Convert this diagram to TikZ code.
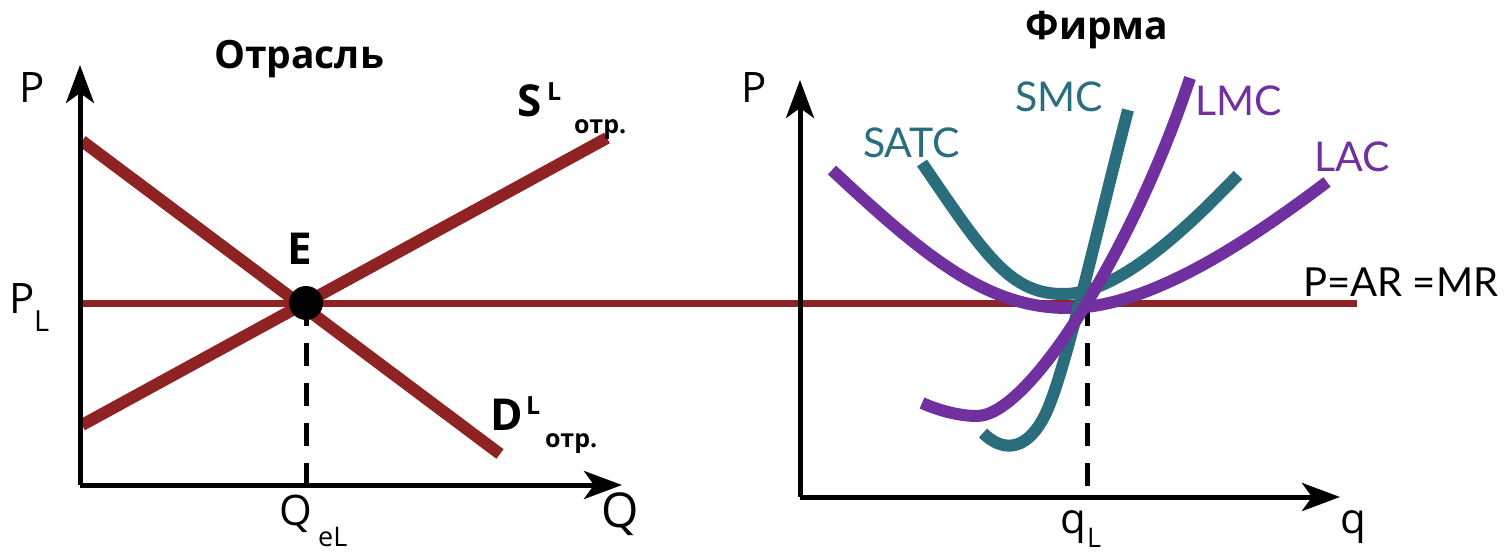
\documentclass[tikz,border=0pt]{standalone}
\usepackage{fontspec}
\setmainfont{Open Sans}
\newfontfamily\gillfont{Lato}
\usetikzlibrary{arrows.meta}
\definecolor{dred}{HTML}{8F2222}
\definecolor{vio}{HTML}{7030A0}
\definecolor{teal2}{HTML}{2A6E7E}
\newcommand{\fs}[1]{\fontsize{#1}{#1}\selectfont}
\begin{document}
\begin{tikzpicture}[x=1pt,y=-1pt,
  axis/.style={line width=5pt,-{Stealth[length=38pt,width=28pt,inset=10pt]}},
  thick curve/.style={line width=12pt},
  price/.style={dred,line width=7pt},
  guide/.style={line width=5pt,dash pattern=on 23pt off 17pt},
  lbl/.style={inner sep=0pt,anchor=base west,font=\fs{42}},
  sublbl/.style={inner sep=0pt,anchor=base west,font=\fs{29}},
  boldlbl/.style={inner sep=0pt,anchor=base west,font=\bfseries\fs{44}},
  suplbl/.style={inner sep=0pt,anchor=base west,font=\bfseries\fs{25}},
  otrlbl/.style={inner sep=0pt,anchor=base west,font=\bfseries\fs{25}},
  curvelbl/.style={inner sep=0pt,anchor=base west,font=\gillfont\fs{41}},
  title/.style={inner sep=0pt,anchor=base,font=\bfseries\fs{39}}]
\useasboundingbox (0,0) rectangle (1512,553);
% coordinates
\coordinate (O1) at (80,485);
\coordinate (Y1) at (80,65);
\coordinate (X1) at (622,485);
\coordinate (O2) at (800,497);
\coordinate (Y2) at (800,80);
\coordinate (X2) at (1340,497);
\coordinate (PL) at (80,303);
\coordinate (PR) at (1357,303);
\coordinate (Dt) at (82,141);
\coordinate (Db) at (500,454);
\coordinate (Sb) at (82,425);
\coordinate (St) at (607,138);
\coordinate (QeL) at (306,485);
\coordinate (qLt) at (1087,303);
\coordinate (qLb) at (1087,497);
% titles
\node[title] (t1) at (299,69) {Отрасль};
\node[title] (t2) at (1097,40) {Фирма};
% price line
\draw[price] (PL) -- (PR);
% demand and supply
\draw[dred,line width=12pt] (Dt) -- (Db);
\draw[dred,line width=12pt] (Sb) -- (St);
% equilibrium
\node[circle,fill=black,minimum size=34pt,inner sep=0pt] (E) at (306,303) {};
\draw[guide] (E.center) -- (QeL);
\draw[guide] (qLt) -- (qLb);
% axes
\draw[axis] (O1) -- (Y1);
\draw[axis] (O1) -- (X1);
\draw[axis] (O2) -- (Y2);
\draw[axis] (O2) -- (X2);
% firm curves
\draw[vio,thick curve] (832,170) .. controls (930,262) and (990,308) .. (1068,308) .. controls (1150,308) and (1250,240) .. (1327,182);
\draw[teal2,thick curve] (922,163) .. controls (985,255) and (1010,295) .. (1065,294) .. controls (1120,293) and (1190,225) .. (1238,175);
\draw[teal2,thick curve] (983,433) .. controls (1000,450) and (1025,455) .. (1045,415) .. controls (1065,375) and (1098,225) .. (1128,110);
\draw[vio,thick curve] (922,403) .. controls (940,411) and (960,416) .. (977,416) .. controls (1030,416) and (1135,245) .. (1190,78);
% labels left
\node[lbl] (Pl) at (19,103) {P};
\node[lbl] (Pp) at (9,313) {P};
\node[sublbl] (Psub) at (34,331) {L};
\node[inner sep=0pt,anchor=base,font=\bfseries\fs{44}] (El) at (300,265) {E};
\node[lbl] (Qe) at (279,525) {Q};
\node[sublbl,font=\fs{27}] (Qsub) at (318,546) {eL};
\node[lbl,font=\fs{48}] (Ql) at (601,527) {Q};
\node[boldlbl] (Sl) at (517,117) {S};
\node[suplbl] (Ssup) at (547,101) {L};
\node[otrlbl] (Ssub) at (574,134) {отр.};
\node[boldlbl] (Dl) at (490,430) {D};
\node[suplbl] (Dsup) at (526,414) {L};
\node[otrlbl] (Dsub) at (545,447) {отр.};
% labels right
\node[lbl] (Pr) at (741,103) {P};
\node[lbl] (q) at (1340,533) {q};
\node[lbl] (ql) at (1060,533) {q};
\node[sublbl,font=\fs{27}] (qsub) at (1087,547) {L};
\node[curvelbl,text=teal2] (satc) at (863,158) {SATC};
\node[curvelbl,text=teal2] (smc) at (1015,112) {SMC};
\node[curvelbl,text=vio] (lmc) at (1195,116) {LMC};
\node[curvelbl,text=vio] (lac) at (1314,172) {LAC};
\node[inner sep=0pt,anchor=base west,font=\gillfont\fs{40}] (par) at (1303,296) {P=AR =MR};
\end{tikzpicture}
\end{document}
